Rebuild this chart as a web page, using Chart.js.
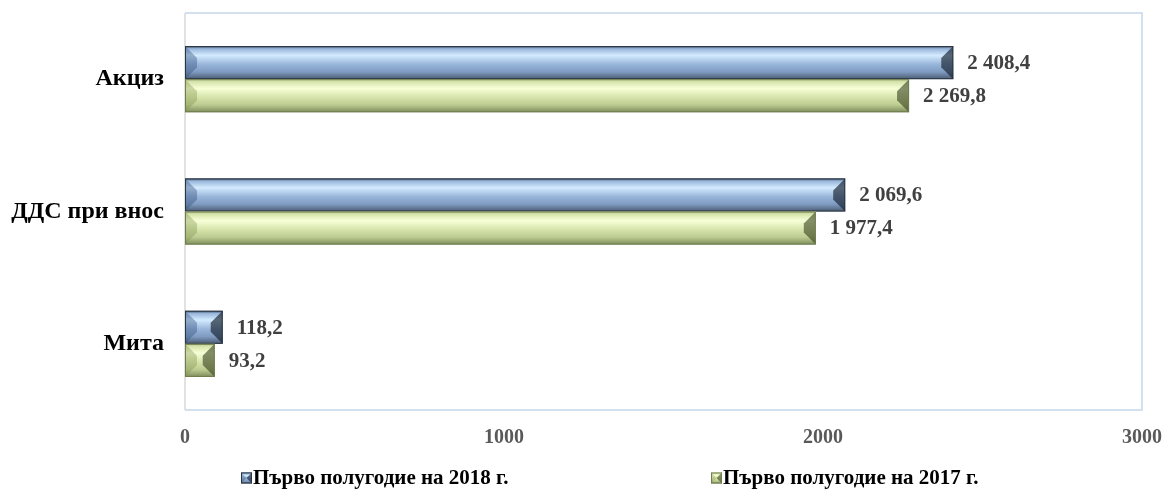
<!DOCTYPE html>
<html>
<head>
<meta charset="utf-8">
<script src="https://cdn.jsdelivr.net/npm/chart.js@4/dist/chart.umd.min.js"></script>
<style>
  html, body { margin: 0; padding: 0; background: #ffffff; }
  #wrap { width: 1168px; height: 491px; }
</style>
</head>
<body>
<div id="wrap"><canvas id="revChart" width="1168" height="491"></canvas></div>
<script>
// categories and series
const categories = ["Акциз", "ДДС при внос", "Мита"];
const series2018 = [2408.4, 2069.6, 118.2];
const series2017 = [2269.8, 1977.4, 93.2];
const seriesNames = ["Първо полугодие на 2018 г.", "Първо полугодие на 2017 г."];
const xTicks = [0, 1000, 2000, 3000];

const FONT = "'Liberation Serif', 'Times New Roman', serif";

// bevel colours per series: [edge, highlight, mid, low, bottom]
const bevels = [
  { stops: ["#3b4a5e", "#d4ebff", "#98b5da", "#7f9bc1", "#4b5b72"], left: "rgba(50,80,125,0.4)", right: "rgba(20,30,45,0.65)", border: "#2b3644" },
  { stops: ["#b9c78e", "#f7ffd6", "#d6e4ab", "#bccb90", "#7d8c5c"], left: "rgba(120,140,70,0.35)", right: "rgba(55,65,30,0.6)", border: "#6f7d4f" }
];

function fmt(v) {
  const parts = v.toFixed(1).split(".");
  const int = parts[0].replace(/\B(?=(\d{3})+(?!\d))/g, " ");
  return int + "," + parts[1];
}

function drawBevelBar(ctx, bar, bv) {
  const x0 = Math.min(bar.base, bar.x), x1 = Math.max(bar.base, bar.x);
  const yt = bar.y - bar.height / 2, yb = bar.y + bar.height / 2;
  const w = x1 - x0, h = yb - yt;
  const g = ctx.createLinearGradient(0, yt, 0, yb);
  g.addColorStop(0, bv.stops[0]);
  g.addColorStop(0.08, bv.stops[2]);
  g.addColorStop(0.28, bv.stops[1]);
  g.addColorStop(0.55, bv.stops[2]);
  g.addColorStop(0.78, bv.stops[3]);
  g.addColorStop(1, bv.stops[4]);
  ctx.save();
  ctx.fillStyle = g;
  ctx.fillRect(x0, yt, w, h);
  const b = Math.min(12, w / 2, h / 2);
  // left bevel
  ctx.fillStyle = bv.left;
  ctx.beginPath();
  ctx.moveTo(x0, yt); ctx.lineTo(x0 + b, yt + b); ctx.lineTo(x0 + b, yb - b); ctx.lineTo(x0, yb);
  ctx.closePath(); ctx.fill();
  // right bevel
  ctx.fillStyle = bv.right;
  ctx.beginPath();
  ctx.moveTo(x1, yt); ctx.lineTo(x1 - b, yt + b); ctx.lineTo(x1 - b, yb - b); ctx.lineTo(x1, yb);
  ctx.closePath(); ctx.fill();
  ctx.strokeStyle = bv.border;
  ctx.lineWidth = 1;
  ctx.strokeRect(x0 + 0.5, yt + 0.5, w - 1, h - 1);
  ctx.restore();
}

const bevelPlugin = {
  id: "bevelBars",
  beforeDatasetsDraw(chart) {
    const { ctx, chartArea: a } = chart;
    ctx.save();
    ctx.lineWidth = 1.5;
    ctx.strokeStyle = "#c5d6ec";
    ctx.beginPath();
    ctx.moveTo(a.left, a.top); ctx.lineTo(a.right, a.top); ctx.lineTo(a.right, a.bottom); ctx.lineTo(a.left, a.bottom);
    ctx.stroke();
    ctx.strokeStyle = "#d9d9d9";
    ctx.beginPath();
    ctx.moveTo(a.left, a.top); ctx.lineTo(a.left, a.bottom);
    ctx.stroke();
    ctx.restore();
  },
  afterDatasetsDraw(chart) {
    const ctx = chart.ctx;
    chart.data.datasets.forEach((ds, i) => {
      const meta = chart.getDatasetMeta(i);
      meta.data.forEach((bar, j) => {
        drawBevelBar(ctx, bar, bevels[i]);
        ctx.save();
        ctx.font = "bold 21px " + FONT;
        ctx.fillStyle = "#404040";
        ctx.textAlign = "left";
        ctx.textBaseline = "middle";
        ctx.fillText(fmt(ds.data[j]), bar.x + 14, bar.y + 1);
        ctx.restore();
      });
    });
  },
  afterDraw(chart) {
    // legend
    const ctx = chart.ctx;
    const starts = [241, 711];
    ctx.save();
    ctx.font = "bold 21px " + FONT;
    ctx.textBaseline = "middle";
    seriesNames.forEach((name, i) => {
      const x = starts[i], y = 478;
      drawBevelBar(ctx, { base: x, x: x + 11, y: y, height: 11 }, bevels[i]);
      ctx.fillStyle = "#000000";
      ctx.fillText(name, x + 12, y + 1);
    });
    ctx.restore();
  }
};

new Chart(document.getElementById("revChart"), {
  type: "bar",
  data: {
    labels: categories,
    datasets: [
      { label: seriesNames[0], data: series2018, backgroundColor: "rgba(0,0,0,0)", borderWidth: 0 },
      { label: seriesNames[1], data: series2017, backgroundColor: "rgba(0,0,0,0)", borderWidth: 0 }
    ]
  },
  options: {
    indexAxis: "y",
    responsive: false,
    animation: false,
    categoryPercentage: 0.5,
    barPercentage: 1.0,
    layout: { padding: { top: 13, right: 26, bottom: 40, left: 0 } },
    plugins: {
      legend: { display: false },
      tooltip: { enabled: false }
    },
    scales: {
      x: {
        min: 0,
        max: 3000,
        afterBuildTicks(scale) { scale.ticks = xTicks.map(v => ({ value: v })); },
        afterFit(scale) {
          scale.height = 41;
          scale.paddingLeft = 0; scale.paddingRight = 0;
        },
        grid: { display: false, drawTicks: false },
        border: { display: false },
        ticks: {
          padding: 16,
          color: "#595959",
          callback: v => String(v),
          font: { family: FONT, size: 20, weight: "bold" }
        }
      },
      y: {
        afterFit(scale) {
          scale.width = 185;
          scale.paddingTop = 0; scale.paddingBottom = 0;
        },
        grid: { display: false, drawTicks: false },
        border: { display: false },
        ticks: {
          padding: 21,
          color: "#000000",
          font: { family: FONT, size: 24, weight: "bold" }
        }
      }
    }
  },
  plugins: [bevelPlugin]
});
</script>
</body>
</html>
